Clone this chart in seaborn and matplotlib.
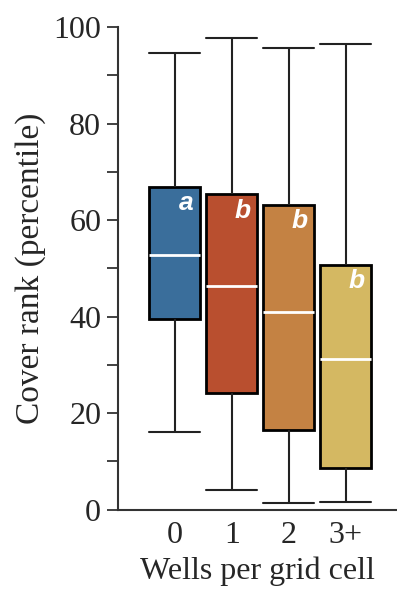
import numpy as np
import pandas as pd
import matplotlib
matplotlib.use("Agg")
import matplotlib.pyplot as plt
import seaborn as sns

# five-number summaries: min, q1, median, q3, max
groups = ['0', '1', '2', '3+']
mins = [16.2, 4.1, 1.3, 1.6]
q1s = [39.5, 24.1, 16.5, 8.6]
medians = [52.8, 46.3, 41.0, 31.2]
q3s = [66.9, 65.4, 63.2, 50.7]
maxs = [94.6, 97.7, 95.6, 96.6]
letters = ['a', 'b', 'b', 'b']
colors = ['#3a6e9b', '#b94f2f', '#c48243', '#d4b862']

rows = []
for g, a, b, c, d, e in zip(groups, mins, q1s, medians, q3s, maxs):
    for v in (a, b, c, d, e):
        rows.append({'wells': g, 'rank': v})
df = pd.DataFrame(rows)

sns.set_style('ticks')
plt.rcParams['font.family'] = ['Liberation Serif', 'DejaVu Serif']

fig = plt.figure(figsize=(3.97, 5.90), dpi=100)
ax = fig.add_axes([0.297, 0.136, 0.703, 0.818])

sns.boxplot(data=df, x='wells', y='rank', hue='wells', palette=colors,
            order=groups, width=0.9, whis=(0, 100), legend=False,
            saturation=1, capwidths=0.9, ax=ax,
            boxprops=dict(edgecolor='black', linewidth=2.0),
            medianprops=dict(color='white', linewidth=2.0),
            whiskerprops=dict(color='#222222', linewidth=1.5),
            capprops=dict(color='#222222', linewidth=1.5))

for i, (lab, top) in enumerate(zip(letters, q3s)):
    ax.text(i + 0.19, top - 3.4, lab, color='white', fontsize=19,
            fontweight='bold', fontstyle='italic', family='Liberation Sans',
            ha='center', va='center')

ax.set_xlim(-1.0, 3.9)
ax.set_ylim(0, 100)
ax.set_yticks(np.arange(0, 101, 10))
ax.set_yticklabels([str(v) if v % 20 == 0 else '' for v in range(0, 101, 10)])
ax.tick_params(axis='y', length=8, width=1.3, labelsize=23, pad=4, color='#333333')
ax.tick_params(axis='x', length=0, labelsize=23, pad=8)
ax.set_xlabel('Wells per grid cell', fontsize=23, labelpad=5)
ax.set_ylabel('Cover rank (percentile)', fontsize=24, labelpad=5)

for side in ['top', 'right']:
    ax.spines[side].set_visible(False)
for side in ['left', 'bottom']:
    ax.spines[side].set_linewidth(1.5)
    ax.spines[side].set_color('#333333')

fig.savefig('out.png', dpi=100)
